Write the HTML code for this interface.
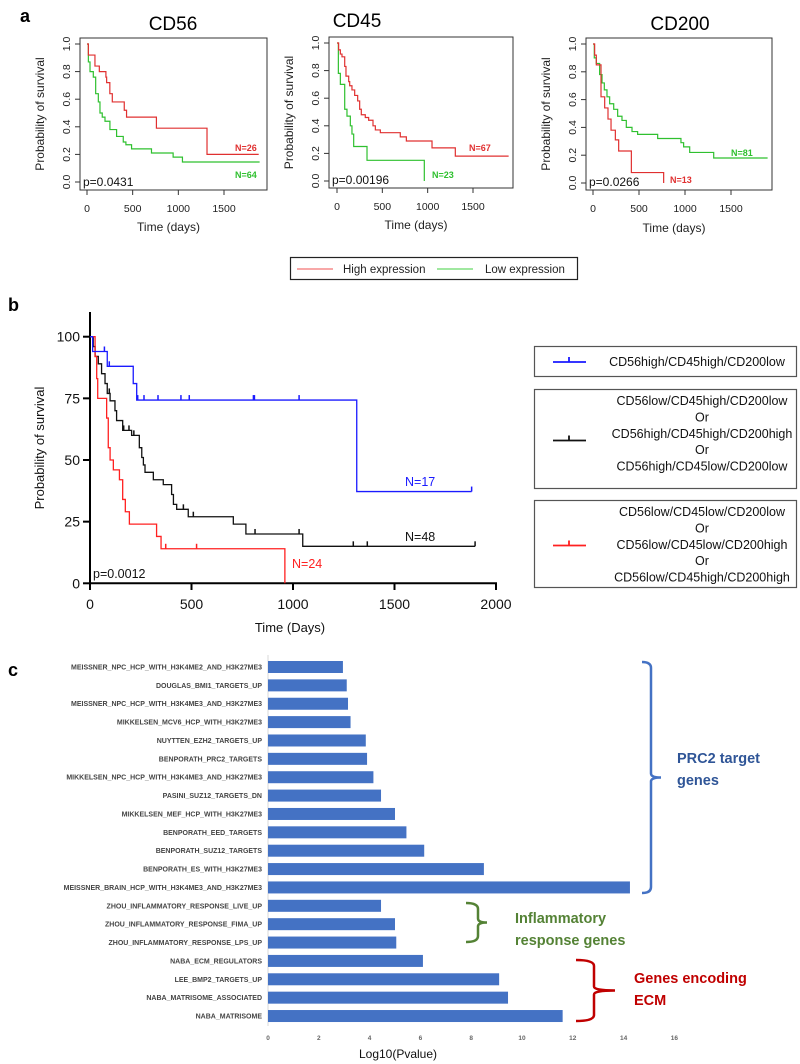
<!DOCTYPE html>
<html><head><meta charset="utf-8"><style>
html,body{margin:0;padding:0;background:#fff;}
svg{display:block;font-family:"Liberation Sans",Arial,sans-serif;}
</style></head><body>
<svg id="fig" width="800" height="1064" viewBox="0 0 800 1064">
<g id="pa"></g>
<g id="pb"></g>
<g id="pc"></g>
</svg>
<script>
// ---------- Panel a data ----------
const cd56HighT=[15,87,135,207,215,250,277,408,433,760,1314];
const cd56HighS=[0.92,0.84,0.80,0.76,0.72,0.64,0.58,0.52,0.47,0.39,0.20];
const cd56HighEnd=1880;
const cd56LowT=[15,33,69,95,124,142,167,197,251,324,397,426,488,706,943,1045];
const cd56LowS=[0.87,0.80,0.76,0.64,0.58,0.50,0.47,0.44,0.38,0.33,0.29,0.27,0.24,0.21,0.18,0.145];
const cd56LowEnd=1890;
const cd45HighT=[18,37,55,85,99,129,140,165,195,228,250,268,312,349,397,423,478,698,765,1048,1305];
const cd45HighS=[0.95,0.92,0.90,0.83,0.76,0.72,0.69,0.66,0.62,0.58,0.52,0.48,0.46,0.44,0.40,0.37,0.35,0.32,0.29,0.24,0.18];
const cd45HighEnd=1893;
const cd45LowT=[15,37,85,110,147,165,184,331,963];
const cd45LowS=[0.78,0.70,0.52,0.47,0.40,0.34,0.25,0.15,0.0];
const cd45LowEnd=963;
const cd200HighT=[18,36,87,127,163,196,243,279,417,768];
const cd200HighS=[0.92,0.85,0.62,0.54,0.46,0.38,0.31,0.23,0.075,0.0];
const cd200HighEnd=768;
const cd200LowT=[14,36,72,98,123,152,181,225,268,315,362,424,485,703,956,985,1051,1312];
const cd200LowS=[0.90,0.86,0.78,0.72,0.67,0.62,0.57,0.53,0.48,0.45,0.40,0.37,0.35,0.32,0.29,0.26,0.22,0.18];
const cd200LowEnd=1898;
const aXTicks=[0,500,1000,1500];
const aYTicks=[0,0.2,0.4,0.6,0.8,1.0];
const aYTickLabels=["0.0","0.2","0.4","0.6","0.8","1.0"];

// ---------- Panel b data ----------
const bBlueT=[13,85,213,230,1314];
const bBlueS=[94,88,81,74.3,37.2];
const bBlueEnd=1880;
const bBlueCens=[71,95,235,266,335,448,489,805,810,1030,1880];
const bBlackT=[16,25,41,57,74,85,99,123,131,161,205,243,255,263,271,312,361,402,411,427,484,706,768,1048];
const bBlackS=[96,92,89,85,81,77,74,70,66,62,60,55,51,48,45,42,40,36,32,30,27,24,20,15];
const bBlackEnd=1897;
const bBlackCens=[95,166,192,216,460,509,813,1030,1297,1366,1897];
const bRedT=[25,33,38,82,90,99,115,145,161,174,194,328,350,960];
const bRedS=[92,83,75,67,55,50,46,42,34,29,24,19,14,0];
const bRedEnd=960;
const bRedCens=[373,525];
const bXTicks=[0,500,1000,1500,2000];
const bYTicks=[0,25,50,75,100];

// ---------- Panel c data ----------
const cCategories=["MEISSNER_NPC_HCP_WITH_H3K4ME2_AND_H3K27ME3","DOUGLAS_BMI1_TARGETS_UP","MEISSNER_NPC_HCP_WITH_H3K4ME3_AND_H3K27ME3","MIKKELSEN_MCV6_HCP_WITH_H3K27ME3","NUYTTEN_EZH2_TARGETS_UP","BENPORATH_PRC2_TARGETS","MIKKELSEN_NPC_HCP_WITH_H3K4ME3_AND_H3K27ME3","PASINI_SUZ12_TARGETS_DN","MIKKELSEN_MEF_HCP_WITH_H3K27ME3","BENPORATH_EED_TARGETS","BENPORATH_SUZ12_TARGETS","BENPORATH_ES_WITH_H3K27ME3","MEISSNER_BRAIN_HCP_WITH_H3K4ME3_AND_H3K27ME3","ZHOU_INFLAMMATORY_RESPONSE_LIVE_UP","ZHOU_INFLAMMATORY_RESPONSE_FIMA_UP","ZHOU_INFLAMMATORY_RESPONSE_LPS_UP","NABA_ECM_REGULATORS","LEE_BMP2_TARGETS_UP","NABA_MATRISOME_ASSOCIATED","NABA_MATRISOME"];
const cValues=[2.95,3.1,3.15,3.25,3.85,3.9,4.15,4.45,5.0,5.45,6.15,8.5,14.25,4.45,5.0,5.05,6.1,9.1,9.45,11.6];
const cXTicks=[0,2,4,6,8,10,12,14,16];

const NS="http://www.w3.org/2000/svg";
function mk(parent,tag,attrs,text){const e=document.createElementNS(NS,tag);for(const k in attrs)e.setAttribute(k,attrs[k]);if(text!==undefined)e.textContent=text;parent.appendChild(e);return e;}

function stepPath(T,S,end,start,xs,ys){
  let d="M"+xs(0)+","+ys(start);let cur=start;
  for(let i=0;i<T.length;i++){d+=" H"+xs(T[i])+" V"+ys(S[i]);cur=S[i];}
  if(end>T[T.length-1]) d+=" H"+xs(end);
  return d;
}
function survAt(T,S,start,t){let v=start;for(let i=0;i<T.length;i++){if(T[i]<=t)v=S[i];}return v;}

// ---------- Panel a ----------
const pa=document.getElementById('pa');
const aPanels=[
 {title:"CD56",tx:173,ty:30,box:[80,38,267,190],x0:87,x1500:224,y1:44,y0:182,hT:cd56HighT,hS:cd56HighS,hE:cd56HighEnd,lT:cd56LowT,lS:cd56LowS,lE:cd56LowEnd,p:"p=0.0431",nH:"N=26",nHx:235,nHy:151,nL:"N=64",nLx:235,nLy:178,tickY:212,timeY:231},
 {title:"CD45",tx:357,ty:27,box:[329,37,513,188],x0:337,x1500:473,y1:43,y0:181,hT:cd45HighT,hS:cd45HighS,hE:cd45HighEnd,lT:cd45LowT,lS:cd45LowS,lE:cd45LowEnd,p:"p=0.00196",nH:"N=67",nHx:469,nHy:151,nL:"N=23",nLx:432,nLy:178,tickY:210,timeY:229},
 {title:"CD200",tx:680,ty:30,box:[586,38,772,190],x0:593,x1500:731,y1:44,y0:183,hT:cd200HighT,hS:cd200HighS,hE:cd200HighEnd,lT:cd200LowT,lS:cd200LowS,lE:cd200LowEnd,p:"p=0.0266",nH:"N=13",nHx:670,nHy:183,nL:"N=81",nLx:731,nLy:156,tickY:212,timeY:232}
];
const lbl=mk(pa,'text',{x:20,y:22,'font-size':18,'font-weight':'bold'},"a");


aPanels.forEach(P=>{
  const g=mk(pa,'g',{});
  
  
  const xs=t=>P.x0+(P.x1500-P.x0)*t/1500;
  const ys=v=>P.y0+(P.y1-P.y0)*v;
  const t=mk(g,'text',{x:P.tx,y:P.ty,'font-size':19,'text-anchor':'middle'},P.title);
  
  
  const b=P.box;
  const r=mk(g,'rect',{x:b[0],y:b[1],width:b[2]-b[0],height:b[3]-b[1],fill:'none',stroke:'#333','stroke-width':1});
  
  
  aXTicks.forEach(v=>{
    mk(g,'line',{x1:xs(v),x2:xs(v),y1:b[3],y2:b[3]+5,stroke:'#333'});
    const tl=mk(g,'text',{x:xs(v),y:P.tickY,'font-size':10.5,'text-anchor':'middle',fill:'#222'},String(v));
    
    
  });
  aYTicks.forEach((v,i)=>{
    mk(g,'line',{x1:b[0],x2:b[0]-5,y1:ys(v),y2:ys(v),stroke:'#333'});
    const yl=mk(g,'text',{x:0,y:0,'font-size':10.5,'text-anchor':'middle',fill:'#222',transform:`translate(${b[0]-10},${ys(v)}) rotate(-90)`},aYTickLabels[i]);
    
    
  });
  const yt=mk(g,'text',{x:0,y:0,'font-size':12,'text-anchor':'middle',fill:'#222',transform:`translate(${b[0]-36},${(b[1]+b[3])/2}) rotate(-90)`},"Probability of survival");
  
  
  const xt=mk(g,'text',{x:(b[0]+b[2])/2-5,y:P.timeY,'font-size':12,'text-anchor':'middle',fill:'#222'},"Time (days)");
  
  
  const lo=mk(g,'path',{d:stepPath(P.lT,P.lS,P.lE,1,xs,ys),fill:'none',stroke:'#2fc02f','stroke-width':1.2});
  
  
  const hi=mk(g,'path',{d:stepPath(P.hT,P.hS,P.hE,1,xs,ys),fill:'none',stroke:'#e03030','stroke-width':1.2});
  
  
  const pv=mk(g,'text',{x:b[0]+3,y:b[3]-4,'font-size':12,fill:'#111'},P.p);
  
  
  const n1=mk(g,'text',{x:P.nHx,y:P.nHy,'font-size':9,'font-weight':'bold',fill:'#e03030'},P.nH);
  
  
  const n2=mk(g,'text',{x:P.nLx,y:P.nLy,'font-size':9,'font-weight':'bold',fill:'#2fc02f'},P.nL);
  
  
});
// legend a
const la=mk(pa,'g',{});


mk(la,'rect',{x:290.5,y:257.5,width:287,height:22,fill:'#fff',stroke:'#222','stroke-width':1.2});
mk(la,'line',{x1:297,x2:333,y1:269,y2:269,stroke:'#f05050','stroke-width':1});
const le1=mk(la,'text',{x:343,y:273,'font-size':11.5,fill:'#222'},"High expression");


mk(la,'line',{x1:437,x2:473,y1:269,y2:269,stroke:'#40d040','stroke-width':1});
const le2=mk(la,'text',{x:485,y:273,'font-size':11.5,fill:'#222'},"Low expression");



// ---------- Panel b ----------
const pb=document.getElementById('pb');
const bl=mk(pb,'text',{x:8,y:311,'font-size':18,'font-weight':'bold'},"b");


const bxs=t=>90+406*t/2000;
const bys=v=>583.3-246.6*v/100;
const bAx=mk(pb,'g',{});


mk(bAx,'line',{x1:90,x2:90,y1:312,y2:584,stroke:'#000','stroke-width':2});
mk(bAx,'line',{x1:89,x2:497,y1:583.3,y2:583.3,stroke:'#000','stroke-width':2});
bXTicks.forEach(v=>{
  mk(bAx,'line',{x1:bxs(v),x2:bxs(v),y1:583,y2:590,stroke:'#000','stroke-width':2});
  const t=mk(bAx,'text',{x:bxs(v),y:609,'font-size':14,'text-anchor':'middle',fill:'#111'},String(v));
  
  
});
bYTicks.forEach(v=>{
  mk(bAx,'line',{x1:83,x2:90,y1:bys(v),y2:bys(v),stroke:'#000','stroke-width':2});
  const t=mk(bAx,'text',{x:80,y:bys(v)+5,'font-size':14,'text-anchor':'end',fill:'#111'},String(v));
  
  
});
const byt=mk(pb,'text',{x:0,y:0,'font-size':13,'text-anchor':'middle',fill:'#111',transform:'translate(44,448) rotate(-90)'},"Probability of survival");


const bxt=mk(pb,'text',{x:290,y:632,'font-size':13,'text-anchor':'middle',fill:'#111'},"Time (Days)");


function bCurve(T,S,E,C,color,name){
  const g=mk(pb,'g',{});
  
  
  mk(g,'path',{d:stepPath(T,S,E,100,bxs,bys),fill:'none',stroke:color,'stroke-width':1.3});
  C.forEach(c=>{const y=bys(survAt(T,S,100,c));mk(g,'line',{x1:bxs(c),x2:bxs(c),y1:y,y2:y-5,stroke:color,'stroke-width':1.5});});
}
bCurve(bBlackT,bBlackS,bBlackEnd,bBlackCens,'#111','curve-mixed-group');
bCurve(bRedT,bRedS,bRedEnd,bRedCens,'#ff2020','curve-low-group');
bCurve(bBlueT,bBlueS,bBlueEnd,bBlueCens,'#1a1aff','curve-cd56high-cd45high-cd200low');
[["p=0.0012",93,578,'#111','p-value'],["N=17",405,486,'#1a1aff','n-blue'],["N=48",405,541,'#111','n-black'],["N=24",292,568,'#ff2020','n-red']].forEach(a=>{
  const t=mk(pb,'text',{x:a[1],y:a[2],'font-size':12.5,fill:a[3]},a[0]);
  
  
});
// legend b
const lgb=[
 {y:346,h:30,color:'#1a1aff',lines:["CD56high/CD45high/CD200low"],name:'legend-entry-blue'},
 {y:389,h:99,color:'#111',lines:["CD56low/CD45high/CD200low","Or","CD56high/CD45high/CD200high","Or","CD56high/CD45low/CD200low"],name:'legend-entry-black'},
 {y:500,h:87,color:'#ff2020',lines:["CD56low/CD45low/CD200low","Or","CD56low/CD45low/CD200high","Or","CD56low/CD45high/CD200high"],name:'legend-entry-red'}
];
lgb.forEach(L=>{
  const g=mk(pb,'g',{});
  
  
  mk(g,'rect',{x:534.5,y:L.y+0.5,width:262,height:L.h,fill:'#fff',stroke:'#555','stroke-width':1.2});
  const my=L.y+L.h/2+(L.lines.length>1?2:1);
  mk(g,'line',{x1:553,x2:586,y1:my,y2:my,stroke:L.color,'stroke-width':1.8});
  mk(g,'line',{x1:569,x2:569,y1:my,y2:my-5,stroke:L.color,'stroke-width':1.8});
  const lh=16.4;
  const y0=L.lines.length>1?L.y+16:L.y+20;
  L.lines.forEach((s,i)=>{
    mk(g,'text',{x:L.lines.length>1?702:697,y:y0+i*lh,'font-size':12.5,'text-anchor':'middle',fill:'#111'},s);
  });
});

// ---------- Panel c ----------
const pc=document.getElementById('pc');
const cl=mk(pc,'text',{x:8,y:676,'font-size':18,'font-weight':'bold'},"c");


const cxs=v=>268+25.4*v;
const cys=i=>667+18.37*i;
mk(pc,'line',{x1:268,x2:268,y1:655,y2:1026,stroke:'#d9d9d9'});
cCategories.forEach((c,i)=>{
  const bar=mk(pc,'rect',{x:cxs(0),y:cys(i)-6,width:cxs(cValues[i])-cxs(0),height:12,fill:'#4472c4'});
  
  
  const t=mk(pc,'text',{x:262,y:cys(i)+2.5,'font-size':7,'font-weight':'bold','text-anchor':'end',fill:'#444'},c);
  
  
});
cXTicks.forEach(v=>{
  const t=mk(pc,'text',{x:cxs(v),y:1040,'font-size':6.5,'font-weight':'bold','text-anchor':'middle',fill:'#666'},String(v));
  
  
});
const cxt=mk(pc,'text',{x:398,y:1058,'font-size':12,'text-anchor':'middle',fill:'#111'},"Log10(Pvalue)");


function bracket(x1,x2,tip,ya,yb,color,name){
  const ym=(ya+yb)/2;
  const p=mk(pc,'path',{d:`M${x1},${ya} Q${x2},${ya} ${x2},${ya+6} V${ym-4} Q${x2},${ym} ${tip},${ym} Q${x2},${ym} ${x2},${ym+4} V${yb-6} Q${x2},${yb} ${x1},${yb}`,fill:'none',stroke:color,'stroke-width':2.5});
  
  
}
bracket(642,651,661,662,893,'#4472c4','bracket-prc2');
bracket(466,478,487,903,942,'#548235','bracket-inflammatory');
bracket(576,594,615,960,1021,'#c00000','bracket-ecm');
[[["PRC2 target","genes"],677,763,'#2f5597','group-label-prc2'],[["Inflammatory","response genes"],515,923,'#548235','group-label-inflammatory'],[["Genes encoding","ECM"],634,983,'#c00000','group-label-ecm']].forEach(a=>{
  const t=mk(pc,'text',{x:a[1],y:a[2],'font-size':14.5,'font-weight':'bold',fill:a[3]});
  
  
  a[0].forEach((s,i)=>mk(t,'tspan',{x:a[1],dy:i?22:0},s));
});
</script>
</body></html>
